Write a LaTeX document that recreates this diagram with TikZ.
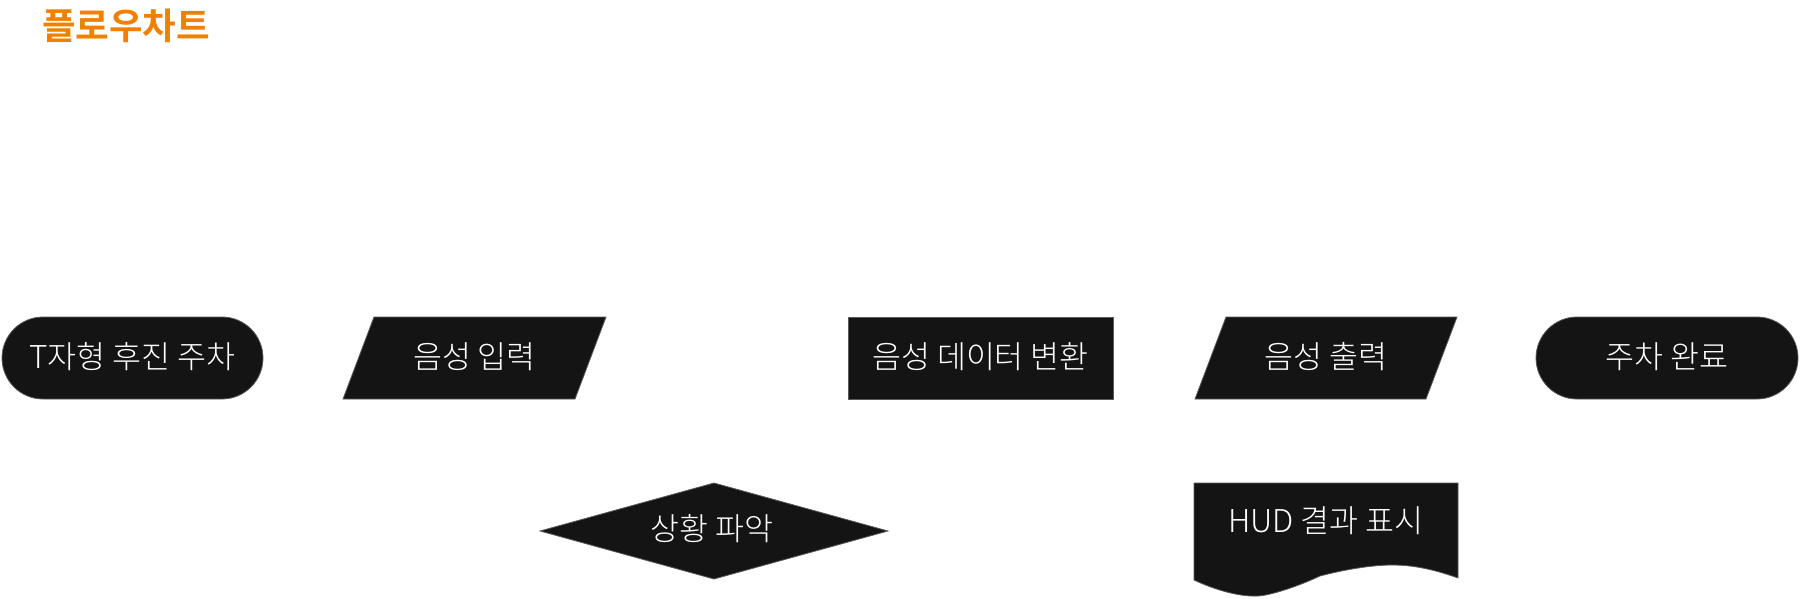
\documentclass[tikz,border=0pt]{standalone}
\usepackage{fontspec}
\setmainfont{Noto Sans CJK KR}[UprightFont={* Light},BoldFont={* Bold}]
\definecolor{boxfill}{HTML}{141414}
\definecolor{boxline}{HTML}{5A5A5A}
\definecolor{titleorange}{HTML}{F08000}
\begin{document}
\begin{tikzpicture}[x=1pt,y=-1pt,
  shapefill/.style={fill=boxfill,draw=boxline,line width=0.8pt},
  lbl/.style={text=white,font=\fontsize{31.5}{35}\selectfont,inner sep=0pt}]
\useasboundingbox (0,0) rectangle (1800,598);
% title
\node[anchor=west,text=titleorange,font=\fontsize{36.5}{40}\selectfont\bfseries,inner sep=0pt] (title) at (42,26) {플로우차트};
% shapes
\draw[shapefill,rounded corners=41pt] (2,317) rectangle (263,399);
\node[lbl] (start) at (132.5,357) {T자형 후진 주차};
\draw[shapefill] (374,317) -- (606,317) -- (575,399) -- (343,399) -- cycle;
\node[lbl] (input) at (474.5,357) {음성 입력};
\draw[shapefill] (848,317) rectangle (1113,399);
\node[lbl] (conv) at (980.5,357) {음성 데이터 변환};
\draw[shapefill] (1226,317) -- (1457,317) -- (1426,399) -- (1195,399) -- cycle;
\node[lbl] (output) at (1326,357) {음성 출력};
\draw[shapefill,rounded corners=41pt] (1536,317) rectangle (1798,399);
\node[lbl] (done) at (1667,357) {주차 완료};
\draw[shapefill] (540,531) -- (714,483) -- (888,531) -- (714,579) -- cycle;
\node[lbl] (sit) at (712,529) {상황 파악};
\draw[shapefill] (1194,483) -- (1458,483) -- (1458,578)
  .. controls (1430,568) and (1410,565) .. (1392,565)
  .. controls (1360,565) and (1320,576) .. (1320,576)
  .. controls (1290,590) and (1265,596) .. (1258,596)
  .. controls (1240,597) and (1215,590) .. (1194,580) -- cycle;
\node[lbl] (hud) at (1326,521) {HUD 결과 표시};
\end{tikzpicture}
\end{document}
